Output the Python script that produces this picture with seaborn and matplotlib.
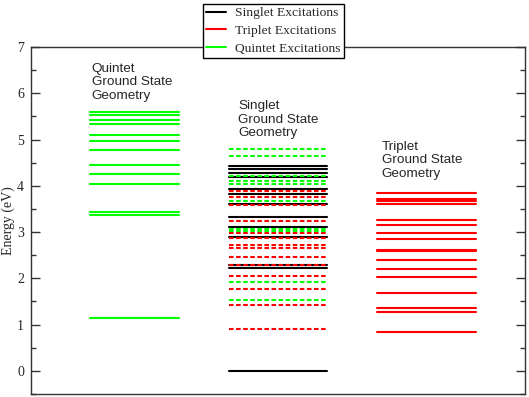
import pandas as pd
import matplotlib
matplotlib.use('Agg')
import matplotlib.pyplot as plt
from matplotlib.lines import Line2D
from matplotlib.ticker import MultipleLocator
import seaborn as sns

# excitation energies (eV)
quintet_geom_quintet = [5.59, 5.53, 5.42, 5.33, 5.10, 4.97, 4.77, 4.46, 4.26, 4.03, 3.43, 3.37, 1.15]
singlet_geom_singlet = [4.43, 4.36, 4.27, 4.18, 3.93, 3.82, 3.61, 3.32, 3.12, 2.89, 2.29, 2.23, 0.0]
singlet_geom_triplet = [3.89, 3.75, 3.59, 3.24, 2.97, 2.87, 2.71, 2.65, 2.47, 2.29, 2.06, 1.78, 1.43, 0.91]
singlet_geom_quintet = [4.79, 4.65, 4.22, 4.10, 4.03, 3.68, 3.07, 3.02, 1.93, 1.53]
triplet_geom_triplet = [3.85, 3.72, 3.68, 3.60, 3.25, 3.15, 2.99, 2.85, 2.62, 2.60, 2.39, 2.20,
                        2.03, 1.69, 1.35, 1.28, 0.85]

column_spans = {'quintet': (1.2, 3.0), 'singlet': (4.0, 6.0), 'triplet': (7.0, 9.0)}
column_titles = {'quintet': 'Quintet\nGround State\nGeometry',
                 'singlet': 'Singlet\nGround State\nGeometry',
                 'triplet': 'Triplet\nGround State\nGeometry'}
legend_labels = ['Singlet Excitations', 'Triplet Excitations', 'Quintet Excitations']


def levels_df(energies, column):
    x0, x1 = column_spans[column]
    rows = []
    for i, e in enumerate(energies):
        rows.append({'x': x0, 'E': e, 'level': i})
        rows.append({'x': x1, 'E': e, 'level': i})
    return pd.DataFrame(rows)


sns.set_style('ticks')
plt.rcParams['font.family'] = ['Liberation Serif', 'DejaVu Serif']

fig = plt.figure(figsize=(5.29, 3.97), dpi=100)
ax = fig.add_axes([0.0586, 0.0076, 0.9338, 0.874])

dash = (0, (2.2, 1.2))
groups = [
    (quintet_geom_quintet, 'quintet', '#00ff00', '-'),
    (triplet_geom_triplet, 'triplet', '#ff0000', '-'),
    (singlet_geom_singlet, 'singlet', 'black', '-'),
    (singlet_geom_triplet, 'singlet', '#ff0000', dash),
    (singlet_geom_quintet, 'singlet', '#00ff00', dash),
]
for energies, col, color, ls in groups:
    sns.lineplot(data=levels_df(energies, col), x='x', y='E', units='level', estimator=None,
                 sort=False, color=color, linestyle=ls, linewidth=1.5, ax=ax)

text_pos = {'quintet': (1.23, 6.66), 'singlet': (4.19, 5.85), 'triplet': (7.10, 4.97)}
for col, (tx, ty) in text_pos.items():
    ax.text(tx, ty, column_titles[col], ha='left', va='top', fontsize=9.7,
            family=['Liberation Sans', 'DejaVu Sans'], linespacing=1.17)

ax.set_xlim(0, 10)
ax.set_ylim(-0.5, 7)
ax.set_xticks([])
ax.yaxis.set_major_locator(MultipleLocator(1))
ax.yaxis.set_minor_locator(MultipleLocator(0.5))
ax.tick_params(axis='y', which='both', direction='in', left=True, right=True,
               labelsize=10, pad=5, width=1, color='#333333')
ax.tick_params(axis='y', which='major', length=6.5)
ax.tick_params(axis='y', which='minor', length=3.6)
ax.set_xlabel('')
ax.set_ylabel('Energy (eV)', fontsize=10, labelpad=1.5)
for s in ax.spines.values():
    s.set_visible(True)
    s.set_linewidth(1)
    s.set_color('#333333')

handles = [Line2D([], [], color=c, lw=1.5) for c in ['black', '#ff0000', '#00ff00']]
leg = fig.legend(handles, legend_labels, loc='lower center', bbox_to_anchor=(0.517, 0.854),
                 fontsize=9.7, frameon=True, fancybox=False, framealpha=1, edgecolor='black',
                 handlelength=1.5, handletextpad=0.65, labelspacing=0.38, borderpad=0.25,
                 borderaxespad=0)
leg.get_frame().set_linewidth(1)
leg.set_zorder(10)

fig.savefig('out.png', dpi=100)
